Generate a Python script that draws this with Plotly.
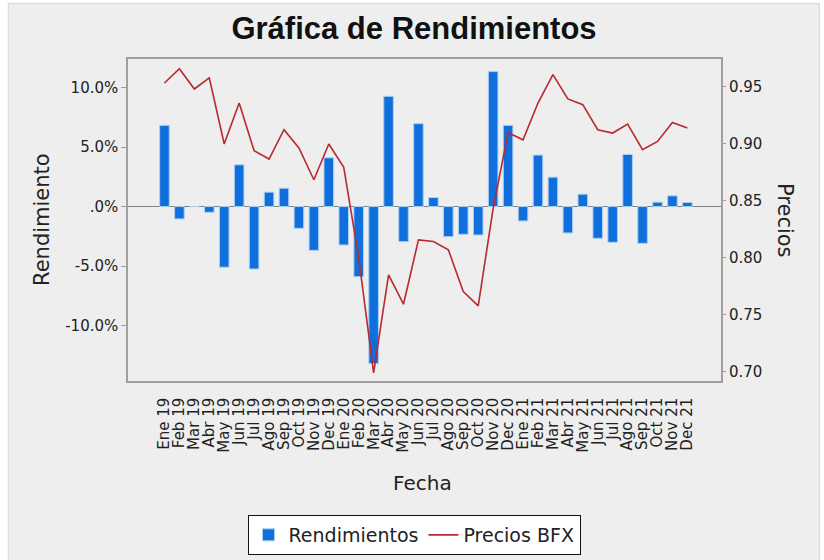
import plotly.graph_objects as go

fechas = ["Ene 19", "Feb 19", "Mar 19", "Abr 19", "May 19", "Jun 19", "Jul 19", "Ago 19", "Sep 19", "Oct 19", "Nov 19", "Dec 19",
          "Ene 20", "Feb 20", "Mar 20", "Abr 20", "May 20", "Jun 20", "Jul 20", "Ago 20", "Sep 20", "Oct 20", "Nov 20", "Dec 20",
          "Ene 21", "Feb 21", "Mar 21", "Abr 21", "May 21", "Jun 21", "Jul 21", "Ago 21", "Sep 21", "Oct 21", "Nov 21", "Dec 21"]

rendimientos = [6.83, -1.04, 0.0, -0.48, -5.10, 3.51, -5.25, 1.21, 1.54, -1.83, -3.68, 4.10,
                -3.23, -5.90, -13.20, 9.27, -2.95, 6.97, 0.76, -2.53, -2.33, -2.39, 11.35, 6.83,
                -1.21, 4.33, 2.47, -2.22, 1.04, -2.67, -3.00, 4.38, -3.09, 0.37, 0.90, 0.34]

precios = [0.953, 0.9655, 0.9477, 0.9574, 0.8995, 0.9354, 0.8936, 0.8863, 0.912, 0.896, 0.8682, 0.8995,
           0.879, 0.800, 0.699, 0.7848, 0.7591, 0.8155, 0.814, 0.8068, 0.7702, 0.7576, 0.843, 0.9095,
           0.9032, 0.9354, 0.9603, 0.939, 0.934, 0.912, 0.9091, 0.917, 0.8945, 0.9018, 0.9184, 0.9135]

y_ticks = [10, 5, 0, -5, -10]
y_ticktext = ["10.0%", "5.0%", ".0%", "-5.0%", "-10.0%"]
y2_ticks = [0.70, 0.75, 0.80, 0.85, 0.90, 0.95]

FONT = "DejaVu Sans"
W, H = 824, 560
L, R, T, B = 128, 103, 59, 179
pw, ph = W - L - R, H - T - B


def px_x(x):
    return (x - L) / pw


def px_y(y):
    return (H - B - y) / ph


fig = go.Figure()
fig.add_trace(go.Bar(
    x=fechas, y=rendimientos, name="Rendimientos",
    marker=dict(color="#0f6fdc", line=dict(color="#a9cff3", width=1)),
    width=0.64, yaxis="y",
))
fig.add_trace(go.Scatter(
    x=fechas, y=precios, name="Precios BFX", mode="lines",
    line=dict(color="#b82a2e", width=1.6), yaxis="y2",
))

fig.update_layout(
    width=W, height=H,
    margin=dict(l=L, r=R, t=T, b=B),
    paper_bgcolor="white",
    plot_bgcolor="white",
    font=dict(family=FONT, color="#222222"),
    title=dict(text="<b>Gráfica de Rendimientos</b>", x=414 / W, xref="container", xanchor="center",
               y=1 - 28 / H, yref="container", yanchor="middle",
               font=dict(family="Liberation Sans, Arial, sans-serif", size=31, color="#111111")),
    xaxis=dict(type="category", range=[-2.44, 37.25], tickangle=-90,
               tickmode="array", tickvals=fechas, ticktext=fechas,
               tickfont=dict(size=15, color="#222222"), showline=True, mirror=True,
               linecolor="#a0a0a0", linewidth=1.5, ticks="", ticklabelstandoff=9,
               showgrid=False, zeroline=False),
    yaxis=dict(range=[-14.67, 12.41], tickvals=y_ticks, ticktext=y_ticktext,
               tickfont=dict(size=15, color="#222222"), showline=True, mirror=True,
               linecolor="#a0a0a0", linewidth=1.5, ticks="outside", ticklen=5, tickcolor="#a0a0a0",
               showgrid=False, zeroline=True, zerolinecolor="#808080", zerolinewidth=1.2),
    yaxis2=dict(range=[0.6918, 0.974], tickvals=y2_ticks, tickformat=".2f", overlaying="y", side="right",
                tickfont=dict(size=15, color="#222222"), showline=False,
                ticks="outside", ticklen=4, tickcolor="#a0a0a0", showgrid=False, zeroline=False),
    showlegend=True,
    legend=dict(orientation="h", xref="container", x=414 / W, xanchor="center",
                yref="container", y=(H - 515) / H, yanchor="top",
                bgcolor="white", bordercolor="#111111", borderwidth=1,
                font=dict(size=19, color="#222222"), traceorder="normal"),
)

fig.add_shape(type="rect", xref="paper", yref="paper",
              x0=px_x(8.3), x1=px_x(819.3), y0=px_y(565), y1=px_y(3.3),
              fillcolor="#eeeeee", line=dict(color="#d6d6d6", width=1), layer="below")

fig.add_annotation(text="Rendimiento", xref="paper", yref="paper", x=px_x(42), y=0.5,
                   textangle=-90, showarrow=False, xanchor="center", yanchor="middle",
                   font=dict(size=21, color="#222222"))
fig.add_annotation(text="Precios", xref="paper", yref="paper", x=px_x(785), y=0.5,
                   textangle=90, showarrow=False, xanchor="center", yanchor="middle",
                   font=dict(size=21, color="#222222"))
fig.add_annotation(text="Fecha", xref="paper", yref="paper", x=px_x(422.5), y=px_y(483),
                   showarrow=False, xanchor="center", yanchor="middle",
                   font=dict(size=20, color="#222222"))

fig.write_html("out.html", config={"displayModeBar": False},
               post_script="document.body.style.margin='0';")
